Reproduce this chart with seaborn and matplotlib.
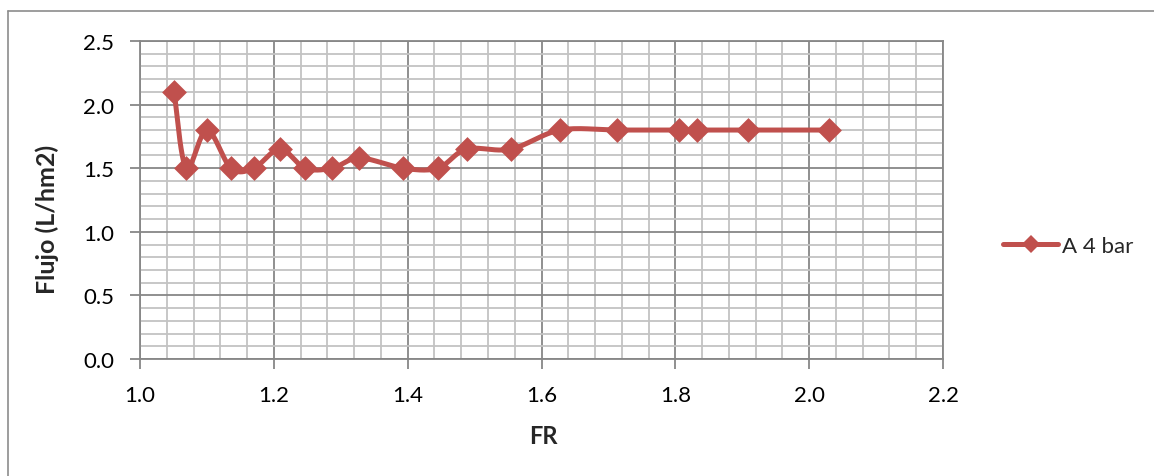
import numpy as np
import pandas as pd
import matplotlib
matplotlib.use("Agg")
import matplotlib.pyplot as plt
from matplotlib.lines import Line2D
from matplotlib.ticker import MultipleLocator
import seaborn as sns

# Flujo measured at each FR value, series "A 4 bar"
fr = [1.051, 1.069, 1.100, 1.136, 1.170, 1.209, 1.247, 1.287, 1.328, 1.393,
      1.445, 1.488, 1.554, 1.628, 1.713, 1.806, 1.832, 1.909, 2.030]
flujo = [2.10, 1.50, 1.80, 1.50, 1.50, 1.65, 1.50, 1.50, 1.58, 1.50,
         1.50, 1.65, 1.65, 1.80, 1.80, 1.80, 1.80, 1.80, 1.80]
series_name = "A 4 bar"
x_ticks = [1.0, 1.2, 1.4, 1.6, 1.8, 2.0, 2.2]
y_ticks = [0.0, 0.5, 1.0, 1.5, 2.0, 2.5]

RED = "#C0504D"
MAJOR = "#878787"
MINOR = "#C3C3C3"


def smooth_curve(x, y, steps=24):
    """Catmull-Rom style smoothed polyline through the given points."""
    x = np.asarray(x, float)
    y = np.asarray(y, float)
    px = np.concatenate([[x[0]], x, [x[-1]]])
    py = np.concatenate([[y[0]], y, [y[-1]]])
    xs, ys = [], []
    t = np.linspace(0, 1, steps, endpoint=False)
    for i in range(1, len(px) - 2):
        p0, p1, p2, p3 = (np.array([px[j], py[j]]) for j in (i - 1, i, i + 1, i + 2))
        c1 = p1 + (p2 - p0) / 6.0
        c2 = p2 - (p3 - p1) / 6.0
        pts = ((1 - t) ** 3)[:, None] * p1 + (3 * (1 - t) ** 2 * t)[:, None] * c1 \
            + (3 * (1 - t) * t ** 2)[:, None] * c2 + (t ** 3)[:, None] * p2
        xs.append(pts[:, 0])
        ys.append(pts[:, 1])
    xs.append([x[-1]])
    ys.append([y[-1]])
    return np.concatenate(xs), np.concatenate(ys)


sns.set_theme(style="white")
plt.rcParams["font.family"] = ["Lato", "DejaVu Sans"]

fig = plt.figure(figsize=(11.54, 4.77), dpi=100)
ax = fig.add_axes([140 / 1154, 1 - 360 / 477, 803 / 1154, 318 / 477])

data = pd.DataFrame({"FR": fr, "Flujo": flujo})
sx, sy = smooth_curve(fr, flujo)
curve = pd.DataFrame({"FR": sx, "Flujo": sy})

sns.lineplot(data=curve, x="FR", y="Flujo", sort=False, ax=ax, color=RED,
             linewidth=3.6, zorder=3, solid_capstyle="round")
sns.scatterplot(data=data, x="FR", y="Flujo", ax=ax, color=RED, marker="D",
                s=160, edgecolor=RED, linewidth=0, zorder=4)

ax.set_xlim(1.0, 2.2)
ax.set_ylim(0.0, 2.5)
ax.set_xticks(x_ticks)
ax.set_yticks(y_ticks)
ax.set_xticklabels([f"{v:.1f}" for v in x_ticks])
ax.set_yticklabels([f"{v:.1f}" for v in y_ticks])
ax.xaxis.set_minor_locator(MultipleLocator(0.04))
ax.yaxis.set_minor_locator(MultipleLocator(0.1))

ax.grid(which="minor", color=MINOR, linewidth=1.3, zorder=0)
ax.grid(which="major", color=MAJOR, linewidth=1.3, zorder=1)
ax.set_axisbelow(True)
for s in ax.spines.values():
    s.set_color(MAJOR)
    s.set_linewidth(1.3)

ax.tick_params(axis="both", which="major", direction="out", length=7.5,
               width=1.3, color=MAJOR, labelsize=16, labelcolor="black",
               left=True, bottom=True)
ax.tick_params(axis="x", pad=11)
ax.tick_params(axis="y", pad=11)
ax.tick_params(which="minor", length=0)

ax.set_xlabel("FR", fontsize=17, fontweight="bold", va="center")
ax.set_ylabel("Flujo (L/hm2)", fontsize=18, fontweight="bold", va="center")
ax.xaxis.set_label_coords((543 - 140) / 803, (360 - 436) / 318)
ax.yaxis.set_label_coords((47 - 140) / 803, (360 - 219) / 318)

handle = Line2D([0], [0], color=RED, linewidth=3.6, marker="D", markersize=9.5,
                markeredgewidth=0, solid_capstyle="round")
fig.legend([handle], [series_name], loc="center left",
           bbox_to_anchor=(994 / 1154, 1 - 247 / 477), frameon=False,
           fontsize=16, handlelength=2.5, handletextpad=0.18,
           borderaxespad=0)

# chart-area border (left and top edges)
fig.add_artist(Line2D([7.5 / 1154, 1.0], [1 - 11.5 / 477, 1 - 11.5 / 477],
                      transform=fig.transFigure, color="#8C8C8C", linewidth=1.2))
fig.add_artist(Line2D([7.5 / 1154, 7.5 / 1154], [0.0, 1 - 11.5 / 477],
                      transform=fig.transFigure, color="#8C8C8C", linewidth=1.2))

fig.savefig("out.png", dpi=100, facecolor="white")
